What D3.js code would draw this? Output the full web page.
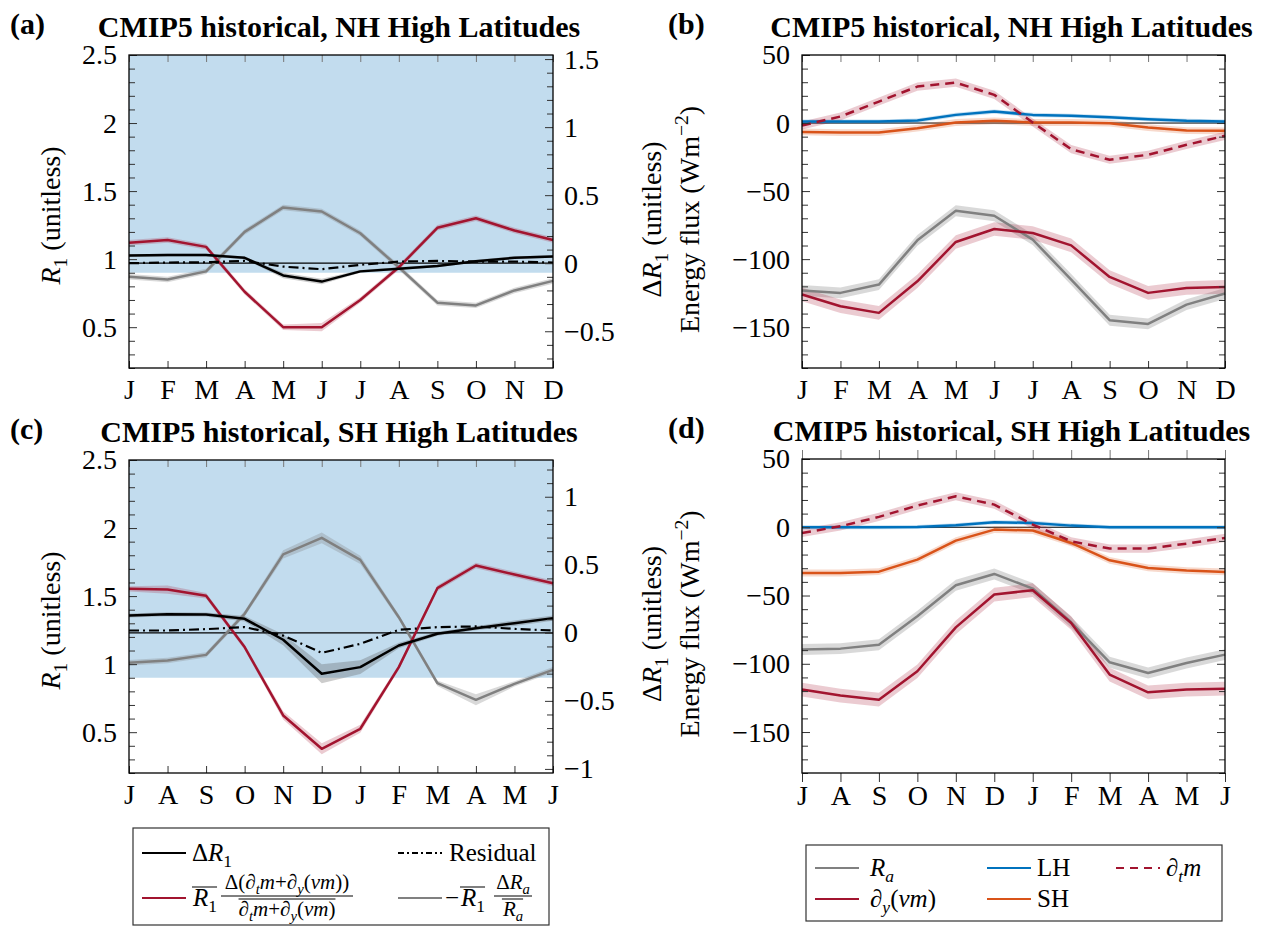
<!DOCTYPE html>
<html>

<head>
  <meta charset="utf-8" />
  <title>CMIP5 historical, high latitudes</title>
  <script src="https://d3js.org/d3.v7.min.js"></script>
  <style>
    body { margin: 0; background: #fff; }
    text { font-family: "Liberation Serif", "Times New Roman", serif; }
  </style>
</head>

<body>
  <script>
    // month labels (SH panels start in July)
    const monthsNH = ["J", "F", "M", "A", "M", "J", "J", "A", "S", "O", "N", "D"];
    const monthsSH = ["J", "A", "S", "O", "N", "D", "J", "F", "M", "A", "M", "J"];

    // R1 axis, RAE threshold and the annual mean R1 the right axis is centred on
    const r1Domain = [0.2, 2.5];
    const r1Ticks = [0.5, 1, 1.5, 2, 2.5];
    const raeThreshold = 0.9;
    const r1MeanNH = 0.97;
    const r1MeanSH = 1.23;
    const dR1TicksNH = [-0.5, 0, 0.5, 1, 1.5];
    const dR1TicksSH = [-1, -0.5, 0, 0.5, 1];

    // ΔR1 decomposition, NH high latitudes
    const dR1NH = [0.056, 0.06, 0.06, 0.04, -0.09, -0.135, -0.06, -0.04, -0.02, 0.015, 0.04, 0.05];
    const dynNH = [0.15, 0.17, 0.12, -0.21, -0.47, -0.47, -0.27, -0.03, 0.26, 0.33, 0.24, 0.17];
    const raTermNH = [-0.10, -0.12, -0.06, 0.23, 0.41, 0.38, 0.22, -0.03, -0.29, -0.31, -0.20, -0.13];
    const residNH = [0, 0.005, 0.007, 0.017, -0.025, -0.044, -0.012, 0.012, 0.017, 0.012, 0.012, 0.005];
    const dR1SpreadNH = [0.01, 0.01, 0.01, 0.01, 0.02, 0.02, 0.01, 0.01, 0.01, 0.01, 0.01, 0.01];
    const dynSpreadNH = [0.02, 0.02, 0.02, 0.02, 0.02, 0.03, 0.02, 0.02, 0.02, 0.02, 0.02, 0.02];
    const raSpreadNH = [0.02, 0.02, 0.02, 0.02, 0.02, 0.02, 0.02, 0.02, 0.02, 0.02, 0.02, 0.02];

    // ΔR1 decomposition, SH high latitudes
    const dR1SH = [0.127, 0.137, 0.135, 0.103, -0.051, -0.301, -0.252, -0.093, -0.007, 0.034, 0.071, 0.108];
    const dynSH = [0.323, 0.318, 0.272, -0.105, -0.607, -0.852, -0.705, -0.252, 0.328, 0.495, 0.429, 0.365];
    const raTermSH = [-0.22, -0.203, -0.162, 0.14, 0.576, 0.698, 0.536, 0.115, -0.37, -0.492, -0.375, -0.272];
    const residSH = [0.017, 0.017, 0.027, 0.042, -0.02, -0.147, -0.081, 0.022, 0.042, 0.047, 0.029, 0.017];
    const dR1SpreadSH = [0.015, 0.015, 0.015, 0.02, 0.04, 0.07, 0.05, 0.02, 0.015, 0.015, 0.02, 0.02];
    const dynSpreadSH = [0.02, 0.03, 0.02, 0.02, 0.03, 0.04, 0.03, 0.02, 0.02, 0.02, 0.02, 0.02];
    const raSpreadSH = [0.02, 0.02, 0.02, 0.02, 0.03, 0.04, 0.03, 0.02, 0.02, 0.04, 0.02, 0.02];

    // energy flux axis (W m-2)
    const fluxDomain = [-180, 50];
    const fluxTicks = [-150, -100, -50, 0, 50];

    // energy fluxes, NH
    const raFluxNH = [-123, -124.8, -118.7, -86.2, -64.4, -68.1, -85.7, -115, -144.9, -147.6, -133.4, -125.3];
    const dyFluxNH = [-126, -134.6, -139.5, -116.3, -87.4, -77.9, -80.8, -89.9, -113.1, -124.8, -121.2, -120.4];
    const lhNH = [1.1, 1.1, 1.1, 1.8, 6, 8.4, 6, 5.3, 4.3, 2.8, 1.6, 1.1];
    const shNH = [-6.5, -7, -7, -3.8, 0.4, 1.6, 0.4, 0.4, -0.1, -3.3, -5.5, -5.7];
    const dtNH = [-1.8, 4.8, 15.8, 26.8, 29.7, 20.7, 0.4, -19.2, -27, -23.3, -16, -9.4];

    // energy fluxes, SH
    const raFluxSH = [-89.6, -88.9, -86, -65.2, -42.5, -34.2, -44.9, -69.6, -98.9, -106.7, -99.4, -93.3];
    const dyFluxSH = [-118.9, -123.3, -126.3, -105.5, -73.3, -49.3, -46.1, -70.1, -107.9, -120.9, -118.9, -118.2];
    const lhSH = [0, 0, 0, 0.2, 1.5, 3.7, 3.2, 1.2, 0, 0, 0, 0];
    const shSH = [-33.5, -33.5, -32.5, -23.7, -9.8, -1.7, -2.4, -11.5, -24.2, -29.8, -31.7, -32.7];
    const dtSH = [-4.2, 0.7, 7.6, 15.9, 22.7, 16.6, 2, -10.3, -15.6, -15.6, -12, -7.8];

    // model spread of the fluxes
    const raFluxSpread = [4, 4, 4, 4, 4, 4, 4, 4, 4, 4, 4, 4];
    const dyFluxSpread = [5, 5, 5, 5, 5, 5, 5, 5, 5, 5, 5, 5];
    const lhSpread = [1.5, 1.5, 1.5, 1.5, 1.5, 1.5, 1.5, 1.5, 1.5, 1.5, 1.5, 1.5];
    const shSpread = [2.5, 2.5, 2.5, 2.5, 2.5, 2.5, 2.5, 2.5, 2.5, 2.5, 2.5, 2.5];
    const dtSpread = [3, 3, 3, 3, 3, 3, 3, 3, 3, 3, 3, 3];

    const red = "#a2142f", grey = "#808080", blue = "#0072bd", orange = "#d95319";
    const tickFont = 28, titleFont = 30, labelFont = 28, legendFont = 25, fracFont = 21;

    let svg = d3.select("body").append("svg")
      .attr("width", 1262).attr("height", 927)
      .style("background", "#fff");

    // text made of pieces: italic, subscript, superscript
    function mathText(g, x, y, parts, size, anchor) {
      let t = g.append("text").attr("x", x).attr("y", y)
        .attr("font-size", size).attr("text-anchor", anchor || "start");
      let shift = 0;
      parts.forEach(p => {
        let target = p.sub ? size * 0.25 : p.sup ? -size * 0.4 : 0;
        let ts = t.append("tspan").text(p.t).attr("dy", target - shift);
        if (p.sub || p.sup) ts.attr("font-size", size * 0.7);
        if (p.it) ts.attr("font-style", "italic");
        shift = target;
      });
      return t;
    }

    function overline(g, textSel, gap) {
      let b = textSel.node().getBBox();
      g.append("line")
        .attr("x1", b.x).attr("x2", b.x + b.width)
        .attr("y1", b.y + gap).attr("y2", b.y + gap)
        .attr("stroke", "#000").attr("stroke-width", 1);
    }

    function styleAxis(g, size) {
      g.select(".domain").remove();
      g.selectAll(".tick line").attr("stroke", "#333").attr("stroke-width", 1);
      g.selectAll("text").attr("font-size", size)
        .attr("font-family", "Liberation Serif, Times New Roman, serif").attr("fill", "#000");
      g.attr("font-size", null).attr("font-family", null);
    }

    function minorValues(domain, step, majors) {
      let out = [];
      let start = Math.ceil(domain[0] / step - 1e-9);
      let end = Math.floor(domain[1] / step + 1e-9);
      for (let i = start; i <= end; i++) {
        let v = +(i * step).toFixed(4);
        if (!majors.some(m => Math.abs(m - v) < 1e-6)) out.push(v);
      }
      return out;
    }

    function monthAxes(g, p, x, months) {
      let len = p.outward ? 9 : -7;
      let bottom = g.append("g").attr("transform", `translate(0,${p.bottom})`)
        .call(d3.axisBottom(x).tickValues(d3.range(12)).tickFormat(i => months[i])
          .tickSizeInner(len).tickSizeOuter(0).tickPadding(p.outward ? 3 : 11));
      styleAxis(bottom, tickFont);
      let top = g.append("g").attr("transform", `translate(0,${p.top})`)
        .call(d3.axisTop(x).tickValues(d3.range(12)).tickFormat("")
          .tickSizeInner(len).tickSizeOuter(0));
      styleAxis(top, tickFont);
      top.selectAll(".tick line").attr("stroke", "#777");
    }

    function drawSeries(g, x, y, s) {
      if (s.spread) {
        let area = d3.area()
          .x((d, i) => x(i))
          .y0((d, i) => y(d - s.spread[i]))
          .y1((d, i) => y(d + s.spread[i]));
        g.append("path").datum(s.values).attr("d", area)
          .attr("fill", s.band || s.color).attr("fill-opacity", s.bandOpacity || 0.22);
      }
    }

    function drawLine(g, x, y, s) {
      let line = d3.line().x((d, i) => x(i)).y(d => y(d));
      g.append("path").datum(s.values).attr("d", line)
        .attr("fill", "none").attr("stroke", s.color)
        .attr("stroke-width", s.width || 2.5)
        .attr("stroke-dasharray", s.dash || null)
        .attr("stroke-linejoin", "round");
    }

    function panelTitle(p, label, title) {
      svg.append("text").attr("x", p.labelX).attr("y", p.top - 21)
        .attr("font-size", titleFont).attr("font-weight", "bold").text(label);
      svg.append("text").attr("x", (p.left + p.right) / 2 - 2).attr("y", p.top - 18)
        .attr("text-anchor", "middle").attr("font-size", titleFont)
        .attr("font-weight", "bold").text(title);
    }

    // R1 panels: left axis R1, right axis ΔR1 about the annual mean
    function drawR1Panel(p) {
      let g = svg.append("g");
      let x = d3.scaleLinear().domain([0, 11]).range([p.left, p.right]);
      let y = d3.scaleLinear().domain(r1Domain).range([p.bottom, p.top]);
      let yR = d3.scaleLinear().domain([r1Domain[0] - p.mean, r1Domain[1] - p.mean]).range([p.bottom, p.top]);

      // RAE regime
      g.append("rect").attr("x", p.left).attr("width", p.right - p.left)
        .attr("y", y(r1Domain[1])).attr("height", y(raeThreshold) - y(r1Domain[1]))
        .attr("fill", "#c2dcee");

      p.series.forEach(s => drawSeries(g, x, yR, s));
      g.append("line").attr("x1", p.left).attr("x2", p.right)
        .attr("y1", yR(0)).attr("y2", yR(0)).attr("stroke", "#000").attr("stroke-width", 1.2);
      p.series.forEach(s => drawLine(g, x, yR, s));

      let left = g.append("g").attr("transform", `translate(${p.left},0)`)
        .call(d3.axisLeft(y).tickValues(r1Ticks).tickFormat(d3.format(""))
          .tickSizeInner(-8).tickSizeOuter(0).tickPadding(12));
      styleAxis(left, tickFont);
      let leftMinor = g.append("g").attr("transform", `translate(${p.left},0)`)
        .call(d3.axisLeft(y).tickValues(minorValues(r1Domain, 0.1, r1Ticks)).tickFormat("")
          .tickSizeInner(-6).tickSizeOuter(0));
      styleAxis(leftMinor, tickFont);

      let right = g.append("g").attr("transform", `translate(${p.right},0)`)
        .call(d3.axisRight(yR).tickValues(p.rightTicks).tickFormat(d3.format(""))
          .tickSizeInner(-8).tickSizeOuter(0).tickPadding(11));
      styleAxis(right, tickFont);
      let rightMinor = g.append("g").attr("transform", `translate(${p.right},0)`)
        .call(d3.axisRight(yR).tickValues(minorValues(yR.domain(), 0.1, p.rightTicks)).tickFormat("")
          .tickSizeInner(-6).tickSizeOuter(0));
      styleAxis(rightMinor, tickFont);

      monthAxes(g, p, x, p.months);

      g.append("rect").attr("x", p.left).attr("y", p.top)
        .attr("width", p.right - p.left).attr("height", p.bottom - p.top)
        .attr("fill", "none").attr("stroke", "#000").attr("stroke-width", 1.3);

      let lab = mathText(svg, 0, 0, [{ t: "R", it: true }, { t: "1", sub: true }, { t: " (unitless)" }], labelFont, "middle");
      lab.attr("transform", `translate(60,${(p.top + p.bottom) / 2 + 4}) rotate(-90)`);

      panelTitle(p, p.label, p.title);
    }

    // energy flux panels
    function drawFluxPanel(p) {
      let g = svg.append("g");
      let x = d3.scaleLinear().domain([0, 11]).range([p.left, p.right]);
      let y = d3.scaleLinear().domain(fluxDomain).range([p.bottom, p.top]);

      g.append("line").attr("x1", p.left).attr("x2", p.right)
        .attr("y1", y(0)).attr("y2", y(0)).attr("stroke", "#000").attr("stroke-width", 1);
      p.series.forEach(s => drawSeries(g, x, y, s));
      p.series.forEach(s => drawLine(g, x, y, s));

      let left = g.append("g").attr("transform", `translate(${p.left},0)`)
        .call(d3.axisLeft(y).tickValues(fluxTicks).tickFormat(d3.format(""))
          .tickSizeInner(-8).tickSizeOuter(0).tickPadding(12));
      styleAxis(left, tickFont);
      let minors = minorValues(fluxDomain, 10, fluxTicks);
      [d3.axisLeft, d3.axisRight].forEach((ax, k) => {
        let xPos = k === 0 ? p.left : p.right;
        let major = g.append("g").attr("transform", `translate(${xPos},0)`)
          .call(ax(y).tickValues(k === 0 ? [] : fluxTicks).tickFormat("").tickSizeInner(-8).tickSizeOuter(0));
        styleAxis(major, tickFont);
        let minor = g.append("g").attr("transform", `translate(${xPos},0)`)
          .call(ax(y).tickValues(minors).tickFormat("").tickSizeInner(-6).tickSizeOuter(0));
        styleAxis(minor, tickFont);
      });

      monthAxes(g, p, x, p.months);

      g.append("rect").attr("x", p.left).attr("y", p.top)
        .attr("width", p.right - p.left).attr("height", p.bottom - p.top)
        .attr("fill", "none").attr("stroke", "#000").attr("stroke-width", 1.3);

      let cy = (p.top + p.bottom) / 2 + 8;
      let l1 = mathText(svg, 0, 0, [{ t: "Δ" }, { t: "R", it: true }, { t: "1", sub: true }, { t: " (unitless)" }], labelFont, "middle");
      l1.attr("transform", `translate(661,${cy}) rotate(-90)`);
      let l2 = mathText(svg, 0, 0, [{ t: "Energy flux (Wm" }, { t: "−2", sup: true }, { t: ")" }], labelFont, "middle");
      l2.attr("transform", `translate(${p.label2X},${cy}) rotate(-90)`);

      panelTitle(p, p.label, p.title);
    }

    function r1Series(dR1, dyn, ra, resid, sDR1, sDyn, sRa) {
      return [
        { values: ra, spread: sRa, color: grey, bandOpacity: 0.3 },
        { values: dyn, spread: sDyn, color: red },
        { values: dR1, spread: sDR1, color: "#000", band: "#555", bandOpacity: 0.3 },
        { values: resid, color: "#000", width: 2.2, dash: "10,4,2,4" }
      ];
    }

    function fluxSeries(ra, dy, lh, sh, dt) {
      return [
        { values: ra, spread: raFluxSpread, color: grey, bandOpacity: 0.3 },
        { values: dy, spread: dyFluxSpread, color: red },
        { values: sh, spread: shSpread, color: orange },
        { values: lh, spread: lhSpread, color: blue },
        { values: dt, spread: dtSpread, color: red, dash: "9,6" }
      ];
    }

    drawR1Panel({
      left: 129, right: 553, top: 55, bottom: 368, labelX: 10, mean: r1MeanNH,
      months: monthsNH, rightTicks: dR1TicksNH, label: "(a)",
      title: "CMIP5 historical, NH High Latitudes",
      series: r1Series(dR1NH, dynNH, raTermNH, residNH, dR1SpreadNH, dynSpreadNH, raSpreadNH)
    });
    drawFluxPanel({
      left: 802, right: 1225, top: 55, bottom: 368, labelX: 668, label2X: 699,
      months: monthsNH, label: "(b)", title: "CMIP5 historical, NH High Latitudes",
      series: fluxSeries(raFluxNH, dyFluxNH, lhNH, shNH, dtNH)
    });
    drawR1Panel({
      left: 129, right: 553, top: 460, bottom: 773, labelX: 10, mean: r1MeanSH,
      months: monthsSH, rightTicks: dR1TicksSH, label: "(c)",
      title: "CMIP5 historical, SH High Latitudes",
      series: r1Series(dR1SH, dynSH, raTermSH, residSH, dR1SpreadSH, dynSpreadSH, raSpreadSH)
    });
    drawFluxPanel({
      left: 802, right: 1225, top: 459, bottom: 773, labelX: 668, label2X: 699, outward: true,
      months: monthsSH, label: "(d)", title: "CMIP5 historical, SH High Latitudes",
      series: fluxSeries(raFluxSH, dyFluxSH, lhSH, shSH, dtSH)
    });

    // legend for the R1 decomposition
    let leg1 = svg.append("g");
    leg1.append("rect").attr("x", 133).attr("y", 828).attr("width", 416).attr("height", 97)
      .attr("fill", "#fff").attr("stroke", "#333").attr("stroke-width", 1.2);
    function legLine(g, x, y, color, dash, w) {
      g.append("line").attr("x1", x).attr("x2", x + 44).attr("y1", y).attr("y2", y)
        .attr("stroke", color).attr("stroke-width", w || 2).attr("stroke-dasharray", dash || null);
    }
    legLine(leg1, 142, 853, "#000");
    mathText(leg1, 192, 861, [{ t: "Δ" }, { t: "R", it: true }, { t: "1", sub: true }], legendFont);
    legLine(leg1, 398, 853, "#000", "6,3,2,3");
    leg1.append("text").attr("x", 449).attr("y", 861).attr("font-size", legendFont).text("Residual");

    legLine(leg1, 142, 898, red);
    let rbar = mathText(leg1, 193, 906, [{ t: "R", it: true }, { t: "1", sub: true }], legendFont);
    overline(leg1, rbar, 3);
    mathText(leg1, 287, 889, [{ t: "Δ(∂" }, { t: "t", it: true, sub: true }, { t: "m", it: true }, { t: "+∂" },
      { t: "y", it: true, sub: true }, { t: "(" }, { t: "vm", it: true }, { t: "))" }], fracFont, "middle");
    leg1.append("line").attr("x1", 221).attr("x2", 353).attr("y1", 896).attr("y2", 896).attr("stroke", "#000");
    let den = mathText(leg1, 287, 916, [{ t: "∂" }, { t: "t", it: true, sub: true }, { t: "m", it: true }, { t: "+∂" },
      { t: "y", it: true, sub: true }, { t: "(" }, { t: "vm", it: true }, { t: ")" }], fracFont, "middle");
    overline(leg1, den, 2);

    legLine(leg1, 398, 898, grey);
    leg1.append("text").attr("x", 445).attr("y", 906).attr("font-size", legendFont).text("−");
    let rbar2 = mathText(leg1, 461, 906, [{ t: "R", it: true }, { t: "1", sub: true }], legendFont);
    overline(leg1, rbar2, 3);
    mathText(leg1, 513, 889, [{ t: "Δ" }, { t: "R", it: true }, { t: "a", it: true, sub: true }], fracFont, "middle");
    leg1.append("line").attr("x1", 494).attr("x2", 532).attr("y1", 896).attr("y2", 896).attr("stroke", "#000");
    let rabar = mathText(leg1, 513, 916, [{ t: "R", it: true }, { t: "a", it: true, sub: true }], fracFont, "middle");
    overline(leg1, rabar, 2);

    // legend for the energy fluxes
    let leg2 = svg.append("g");
    leg2.append("rect").attr("x", 806).attr("y", 845).attr("width", 416).attr("height", 76)
      .attr("fill", "#fff").attr("stroke", "#333").attr("stroke-width", 1.2);
    legLine(leg2, 815, 868, grey);
    mathText(leg2, 870, 876, [{ t: "R", it: true }, { t: "a", it: true, sub: true }], legendFont);
    legLine(leg2, 987, 868, blue);
    leg2.append("text").attr("x", 1037).attr("y", 876).attr("font-size", legendFont).text("LH");
    legLine(leg2, 1116, 868, red, "8,6");
    mathText(leg2, 1166, 876, [{ t: "∂" }, { t: "t", it: true, sub: true }, { t: "m", it: true }], legendFont);
    legLine(leg2, 815, 899, red);
    mathText(leg2, 870, 907, [{ t: "∂" }, { t: "y", it: true, sub: true }, { t: "(" }, { t: "vm", it: true }, { t: ")" }], legendFont);
    legLine(leg2, 987, 899, orange);
    leg2.append("text").attr("x", 1037).attr("y", 907).attr("font-size", legendFont).text("SH");
  </script>
</body>

</html>
